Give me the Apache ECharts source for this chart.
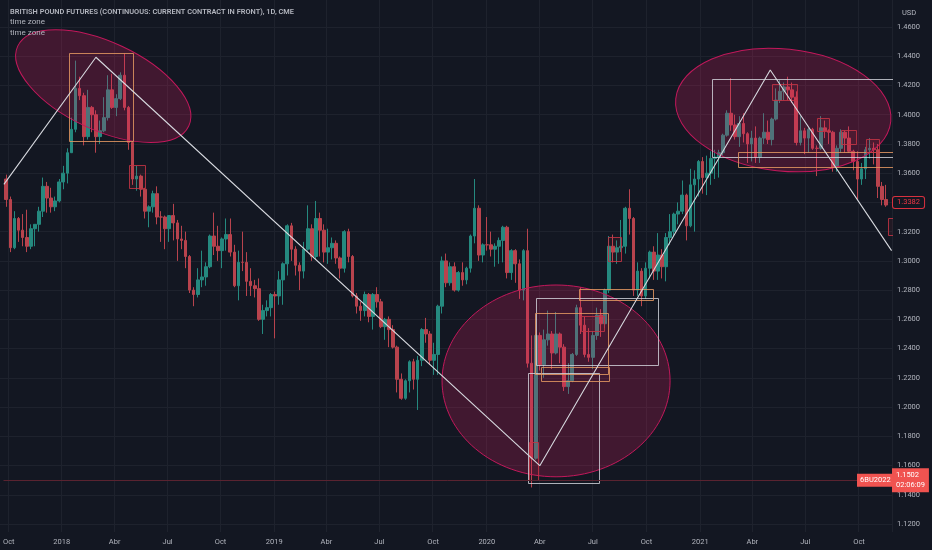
<!DOCTYPE html>
<html><head><meta charset="utf-8">
<script src="https://cdn.jsdelivr.net/npm/echarts@6.0.0/dist/echarts.min.js"></script>
<style>html,body{margin:0;padding:0;background:#131722;}#c{width:932px;height:550px;}</style>
</head><body><div id="c"></div>
<script>
// ---- axis / categories ----
const axisStart = '2017-09-22';   // first trading day visible at the left edge
const axisDays = 1091;            // trading days on the time axis
const firstWeekMonday = '2017-09-25';
const monthLabels = ['', '', '', 'Abr', '', '', 'Jul', '', '', 'Oct', '', ''];
const priceMin = 1.12, priceMax = 1.46, priceStep = 0.02;

// ---- weekly OHLC ----
const weekOpen = [
1.3560,1.3420,1.3090,1.3290,1.3210,1.3160,1.3100,1.3220,1.3250,1.3340,
1.3510,1.3430,1.3370,1.3410,1.3540,1.3600,1.3740,1.3900,1.4180,1.4130,
1.3850,1.4050,1.4000,1.3850,1.3890,1.3980,1.4170,1.4050,1.4110,1.4270,
1.4050,1.3810,1.3560,1.3580,1.3490,1.3340,1.3370,1.3460,1.3300,1.3300,
1.3220,1.3310,1.3260,1.3150,1.3140,1.3030,1.2800,1.2770,1.2870,1.2890,
1.2960,1.3170,1.3100,1.3070,1.3150,1.3180,1.3060,1.2830,1.2990,1.2990,
1.2860,1.2830,1.2810,1.2600,1.2660,1.2680,1.2770,1.2760,1.2870,1.2980,
1.3240,1.3080,1.2970,1.2930,1.3080,1.3220,1.3030,1.3290,1.3210,1.3060,
1.3090,1.3120,1.3020,1.2950,1.3200,1.3030,1.2760,1.2690,1.2660,1.2770,
1.2620,1.2770,1.2720,1.2550,1.2600,1.2530,1.2410,1.2190,1.2060,1.2180,
1.2310,1.2190,1.2320,1.2530,1.2500,1.2320,1.2360,1.2690,1.3000,1.2850,
1.2960,1.2800,1.2920,1.2870,1.2950,1.3170,1.3360,1.3040,1.3110,1.3110,
1.3080,1.3100,1.3140,1.3230,1.2920,1.3070,1.2980,1.2800,1.3070,1.2300,
1.1650,1.2490,1.2290,1.2460,1.2500,1.2370,1.2500,1.2410,1.2140,1.2180,
1.2360,1.2680,1.2560,1.2360,1.2340,1.2490,1.2630,1.2570,1.2800,1.3100,
1.3060,1.3090,1.3100,1.3360,1.3290,1.2800,1.2930,1.2760,1.2950,1.3060,
1.2930,1.3040,1.2960,1.3160,1.3200,1.3320,1.3340,1.3450,1.3240,1.3520,
1.3560,1.3680,1.3570,1.3600,1.3700,1.3710,1.3740,1.3860,1.4010,1.3930,
1.3850,1.3940,1.3870,1.3800,1.3840,1.3710,1.3840,1.3880,1.3830,1.3970,
1.4100,1.4160,1.4190,1.4170,1.4120,1.3810,1.3890,1.3840,1.3900,1.3770,
1.3770,1.3910,1.3890,1.3880,1.3640,1.3770,1.3880,1.3840,1.3750,1.3680,
1.3560,1.3630,1.3760,1.3770,1.3760,1.3510,1.3420];
const weekHigh = [
1.3590,1.3440,1.3340,1.3300,1.3320,1.3350,1.3250,1.3250,1.3370,1.3570,
1.3540,1.3500,1.3440,1.3560,1.3650,1.3770,1.3980,1.4370,1.4260,1.4150,
1.4170,1.4060,1.4030,1.3960,1.4120,1.4270,1.4280,1.4140,1.4290,1.4420,
1.4060,1.3820,1.3650,1.3590,1.3500,1.3380,1.3480,1.3510,1.3340,1.3310,
1.3310,1.3390,1.3280,1.3240,1.3200,1.3040,1.2820,1.2950,1.3070,1.2990,
1.3180,1.3330,1.3240,1.3160,1.3290,1.3290,1.3110,1.3070,1.3200,1.3060,
1.2950,1.2870,1.2880,1.2700,1.2730,1.2780,1.2790,1.2930,1.2990,1.3250,
1.3260,1.3100,1.2990,1.3130,1.3380,1.3250,1.3410,1.3330,1.3250,1.3220,
1.3160,1.3140,1.3030,1.3210,1.3220,1.3040,1.2780,1.2720,1.2790,1.2780,
1.2780,1.2820,1.2740,1.2610,1.2620,1.2560,1.2420,1.2230,1.2190,1.2320,
1.2330,1.2350,1.2540,1.2610,1.2520,1.2440,1.2700,1.3030,1.3050,1.2990,
1.2990,1.2930,1.2990,1.2960,1.3180,1.3560,1.3380,1.3120,1.3300,1.3200,
1.3120,1.3160,1.3240,1.3240,1.3080,1.3080,1.3010,1.3080,1.3220,1.2490,
1.2500,1.2510,1.2530,1.2660,1.2520,1.2650,1.2510,1.2430,1.2300,1.2370,
1.2700,1.2820,1.2620,1.2540,1.2520,1.2680,1.2670,1.2810,1.3170,1.3180,
1.3140,1.3280,1.3370,1.3490,1.3300,1.2990,1.2950,1.2990,1.3070,1.3100,
1.3190,1.3080,1.3190,1.3320,1.3330,1.3400,1.3550,1.3460,1.3630,1.3620,
1.3690,1.3710,1.3720,1.3750,1.3760,1.3760,1.3870,1.4030,1.4250,1.4000,
1.3990,1.4010,1.3880,1.3890,1.3920,1.3850,1.4010,1.3960,1.3980,1.4180,
1.4240,1.4220,1.4260,1.4220,1.4160,1.3990,1.3910,1.3910,1.3910,1.3790,
1.3990,1.3960,1.3900,1.3890,1.3790,1.3900,1.3890,1.3920,1.3760,1.3750,
1.3670,1.3780,1.3840,1.3810,1.3800,1.3540,1.3520];
const weekLow = [
1.3370,1.3060,1.3080,1.3130,1.3100,1.3060,1.3080,1.3100,1.3200,1.3300,
1.3330,1.3330,1.3340,1.3400,1.3490,1.3530,1.3740,1.3880,1.4100,1.3790,
1.3830,1.3880,1.3740,1.3800,1.3880,1.3960,1.4040,1.3990,1.4100,1.4030,
1.3760,1.3520,1.3480,1.3440,1.3290,1.3230,1.3330,1.3250,1.3130,1.3080,
1.3130,1.3140,1.3000,1.3080,1.2950,1.2780,1.2690,1.2750,1.2820,1.2830,
1.2950,1.3040,1.3000,1.2950,1.3070,1.3030,1.2820,1.2730,1.2930,1.2760,
1.2760,1.2750,1.2590,1.2500,1.2620,1.2620,1.2470,1.2700,1.2700,1.2900,
1.3000,1.2900,1.2800,1.2880,1.3070,1.3000,1.3010,1.3030,1.2990,1.2980,
1.3010,1.2980,1.2880,1.2920,1.2990,1.2750,1.2640,1.2590,1.2620,1.2580,
1.2530,1.2680,1.2540,1.2460,1.2410,1.2400,1.2100,1.2050,1.2050,1.2100,
1.2120,1.1980,1.2280,1.2440,1.2290,1.2220,1.2220,1.2640,1.2820,1.2830,
1.2790,1.2790,1.2830,1.2840,1.2920,1.3120,1.3000,1.2990,1.3070,1.3030,
1.2960,1.2980,1.2990,1.2880,1.2870,1.2850,1.2740,1.2730,1.2270,1.1450,
1.1640,1.2250,1.2200,1.2420,1.2260,1.2360,1.2300,1.2110,1.2090,1.2170,
1.2350,1.2500,1.2340,1.2310,1.2260,1.2460,1.2480,1.2540,1.2780,1.2990,
1.2980,1.3060,1.3050,1.3180,1.2760,1.2760,1.2690,1.2740,1.2880,1.2870,
1.2870,1.2880,1.2860,1.3110,1.3170,1.3250,1.3320,1.3140,1.3230,1.3200,
1.3440,1.3460,1.3450,1.3520,1.3560,1.3570,1.3720,1.3850,1.3890,1.3830,
1.3780,1.3810,1.3670,1.3680,1.3670,1.3670,1.3800,1.3800,1.3790,1.3960,
1.4080,1.4100,1.4100,1.4080,1.3790,1.3790,1.3730,1.3740,1.3760,1.3580,
1.3760,1.3840,1.3800,1.3610,1.3610,1.3740,1.3740,1.3740,1.3620,1.3420,
1.3520,1.3560,1.3700,1.3660,1.3430,1.3380,1.3370];
const weekClose = [
1.3420,1.3090,1.3290,1.3210,1.3160,1.3100,1.3220,1.3250,1.3340,1.3510,
1.3430,1.3370,1.3410,1.3540,1.3600,1.3740,1.3900,1.4180,1.4130,1.3850,
1.4050,1.4000,1.3850,1.3890,1.3980,1.4170,1.4050,1.4110,1.4270,1.4050,
1.3810,1.3560,1.3580,1.3490,1.3340,1.3370,1.3460,1.3300,1.3300,1.3220,
1.3310,1.3260,1.3150,1.3140,1.3030,1.2800,1.2770,1.2870,1.2890,1.2960,
1.3170,1.3100,1.3070,1.3150,1.3180,1.3060,1.2830,1.2990,1.2990,1.2860,
1.2830,1.2810,1.2600,1.2660,1.2680,1.2770,1.2760,1.2870,1.2980,1.3240,
1.3080,1.2970,1.2930,1.3080,1.3220,1.3030,1.3290,1.3210,1.3060,1.3090,
1.3120,1.3020,1.2950,1.3200,1.3030,1.2760,1.2690,1.2660,1.2770,1.2620,
1.2770,1.2720,1.2550,1.2600,1.2530,1.2410,1.2190,1.2060,1.2180,1.2310,
1.2190,1.2320,1.2530,1.2500,1.2320,1.2360,1.2690,1.3000,1.2850,1.2960,
1.2800,1.2920,1.2870,1.2950,1.3170,1.3360,1.3040,1.3110,1.3110,1.3080,
1.3100,1.3140,1.3230,1.2920,1.3070,1.2980,1.2800,1.3070,1.2300,1.1650,
1.2490,1.2290,1.2460,1.2500,1.2370,1.2500,1.2410,1.2140,1.2180,1.2360,
1.2680,1.2560,1.2360,1.2340,1.2490,1.2630,1.2570,1.2800,1.3100,1.3060,
1.3090,1.3100,1.3360,1.3290,1.2800,1.2930,1.2760,1.2950,1.3060,1.2930,
1.3040,1.2960,1.3160,1.3200,1.3320,1.3340,1.3450,1.3240,1.3520,1.3560,
1.3680,1.3570,1.3600,1.3700,1.3710,1.3740,1.3860,1.4010,1.3930,1.3850,
1.3940,1.3870,1.3800,1.3840,1.3710,1.3840,1.3880,1.3830,1.3970,1.4100,
1.4160,1.4190,1.4170,1.4120,1.3810,1.3890,1.3840,1.3900,1.3770,1.3770,
1.3910,1.3890,1.3880,1.3640,1.3770,1.3880,1.3840,1.3750,1.3680,1.3560,
1.3630,1.3760,1.3770,1.3760,1.3510,1.3420,1.3382];

// ---- drawings (date, price) ----
const trendPoints = [['2017-09-22',1.3523],['2018-02-28',1.4393],['2020-04-01',1.1599],['2021-05-03',1.4306],['2021-11-26',1.3070]];
// [startDate, topPrice, endDate, bottomPrice, style(0 white,1 orange,2 red), extendsRight]
const boxes = [
 ['2018-01-12',1.4424,'2018-05-02',1.3822,1,0],
 ['2018-04-26',1.3656,'2018-05-24',1.3499,2,0],
 ['2020-03-12',1.2236,'2020-07-13',1.1486,0,0],
 ['2020-03-13',1.1763,'2020-03-30',1.1501,2,0],
 ['2020-03-25',1.2744,'2020-10-21',1.2288,0,0],
 ['2020-03-24',1.2646,'2020-07-28',1.2227,1,0],
 ['2020-04-02',1.2276,'2020-07-28',1.2179,1,0],
 ['2020-06-08',1.2808,'2020-10-13',1.2733,1,0],
 ['2020-06-11',1.2623,'2020-07-21',1.2521,2,0],
 ['2020-07-28',1.3166,'2020-08-19',1.2999,2,0],
 ['2021-01-21',1.4244,'2021-11-26',1.3711,0,1],
 ['2021-03-09',1.3745,'2021-11-26',1.3640,1,1],
 ['2021-05-05',1.4210,'2021-06-17',1.4100,2,0],
 ['2021-07-22',1.3975,'2021-08-12',1.3884,2,0],
 ['2021-09-01',1.3895,'2021-09-27',1.3798,2,0],
 ['2021-10-13',1.3834,'2021-11-04',1.3747,2,0],
 ['2021-11-19',1.3294,'2021-11-26',1.3177,2,1]
];
// [centerDate, centerPrice, axisEndDate, axisEndPrice, minorEndDate, minorEndPrice]
const ellipses = [
 ['2018-03-13',1.4196,'2018-08-07',1.3923,'2018-02-08',1.3924],
 ['2020-04-29',1.2179,'2020-11-11',1.2179,'2020-04-29',1.2835],
 ['2021-05-25',1.4032,'2020-11-20',1.4110,'2021-05-13',1.3617]
];
const lastPrice = 1.3382;
const otherContract = '6BU2022', otherPrice = 1.1502, otherTimer = '02:06:09';

// ---- build ----
function fmt(d){ return d.toISOString().slice(0,10); }
const categories = [];
{ let d = new Date(axisStart + 'T00:00:00Z');
  while (categories.length < axisDays) { const w = d.getUTCDay(); if (w !== 0 && w !== 6) categories.push(fmt(d)); d = new Date(d.getTime() + 86400000); } }
const idxOf = {}; categories.forEach((c, i) => idxOf[c] = i);
function ix(s){ let d = new Date(s + 'T00:00:00Z'); for (let k = 0; k < 4; k++) { const f = fmt(d); if (f in idxOf) return idxOf[f]; d = new Date(d.getTime() + 86400000); } return categories.length - 1; }
const monthOf = categories.map(c => +c.slice(5,7) - 1);
function isQuarterStart(i){ return i > 0 && monthOf[i] !== monthOf[i-1] && monthOf[i] % 3 === 0; }

const candleData = new Array(categories.length).fill('-');
const base = new Date(firstWeekMonday + 'T00:00:00Z').getTime();
for (let k = 0; k < weekClose.length; k++) {
  const wed = fmt(new Date(base + (7*k + 2) * 86400000));
  candleData[ix(wed)] = [weekOpen[k], weekClose[k], weekLow[k], weekHigh[k]];
}
const ellipseData = ellipses.map(e => [ix(e[0]), e[1], ix(e[2]), e[3], ix(e[4]), e[5]]);
const boxData = boxes.map(b => [ix(b[0]), b[1], ix(b[2]), b[3], b[4], b[5]]);
const trendData = trendPoints.map(p => [ix(p[0]), p[1]]);

const FONT = 'Roboto, "Noto Sans", sans-serif';
const boxStroke = ['rgba(214,216,224,0.8)', 'rgba(226,150,96,0.85)', 'rgba(196,52,68,0.85)'];
const boxFill = ['rgba(0,0,0,0)', 'rgba(0,0,0,0)', 'rgba(242,54,69,0.07)'];
const NONE = 'rgba(0,0,0,0)';

// pixel mapping: 1.46 at y=27, 1.12 at y=524 ; data grid spans y 0..532
const pxPerUnit = (524 - 27) / (priceMax - priceMin);
const dataMax = priceMax + 27 / pxPerUnit;
const dataMin = priceMin - 8 / pxPerUnit;

const chart = echarts.init(document.getElementById('c'), null, {renderer: 'canvas'});
chart.setOption({
  backgroundColor: '#131722',
  animation: false,
  textStyle: {fontFamily: FONT},
  title: [
    {left: 5, top: 4, itemGap: 0, text: 'BRITISH POUND FUTURES (CONTINUOUS: CURRENT CONTRACT IN FRONT), 1D, CME',
     textStyle: {color: '#b2b5be', fontSize: 7.4, fontWeight: 600, fontFamily: FONT},
     subtext: 'time zone\ntime zone', subtextStyle: {color: '#b2b5be', fontSize: 8, lineHeight: 11, fontFamily: FONT}},
    {left: 897, top: 4, text: 'USD', textStyle: {color: '#b2b5be', fontSize: 7.5, fontWeight: 'normal', fontFamily: FONT}}
  ],
  grid: [
    {left: 0, right: 40, top: 0, bottom: 18, containLabel: false},
    {left: 0, right: 40, top: 27, bottom: 26, containLabel: false}
  ],
  xAxis: [
    {type: 'category', gridIndex: 0, data: categories, boundaryGap: true,
     axisLine: {show: false}, axisTick: {show: false},
     axisLabel: {interval: (i) => isQuarterStart(i), color: '#b2b5be', fontSize: 7.5, margin: 6, fontFamily: FONT,
       formatter: (v) => { const m = +v.slice(5,7) - 1; return m === 0 ? v.slice(0,4) : monthLabels[m]; }},
     splitLine: {show: true, interval: (i) => isQuarterStart(i), lineStyle: {color: '#1e222d', width: 1}}},
    {type: 'value', gridIndex: 1, show: false, min: 0, max: 1}
  ],
  yAxis: [
    {type: 'value', gridIndex: 0, min: dataMin, max: dataMax, show: false, splitLine: {show: false}},
    {type: 'value', gridIndex: 1, position: 'right', min: priceMin, max: priceMax, interval: priceStep,
     axisLine: {show: false}, axisTick: {show: false},
     axisLabel: {color: '#b2b5be', fontSize: 7.5, margin: 5, fontFamily: FONT, formatter: (v) => v.toFixed(4)},
     splitLine: {show: true, lineStyle: {color: '#1e222d', width: 1}}}
  ],
  series: [
    {type: 'candlestick', xAxisIndex: 0, yAxisIndex: 0, data: candleData, barWidth: 3.2, z: 2,
     large: false, progressive: 0,
     itemStyle: {color: '#25897f', color0: '#b8434d', borderColor: '#25897f', borderColor0: '#b8434d', borderWidth: 1},
     markLine: {silent: true, symbol: ['none', 'none'], animation: false,
       data: [
         {yAxis: otherPrice, lineStyle: {color: '#5a2330', width: 1, type: 'solid'},
          label: {show: true, position: 'end', distance: 0, formatter: otherPrice.toFixed(4) + '\n' + otherTimer,
            backgroundColor: '#f05350', color: '#ffffff', fontSize: 7.5, lineHeight: 10, padding: [2, 4], fontFamily: FONT}},
         {yAxis: otherPrice, lineStyle: {color: NONE, width: 0},
          label: {show: true, position: 'end', distance: -35, formatter: otherContract,
            backgroundColor: '#f05350', color: '#ffffff', fontSize: 7.5, lineHeight: 9, padding: [2, 3], fontFamily: FONT}},
         {yAxis: lastPrice, lineStyle: {color: NONE, width: 0},
          label: {show: true, position: 'end', distance: 1, formatter: lastPrice.toFixed(4),
            backgroundColor: '#131722', borderColor: '#d8313f', borderWidth: 1, borderRadius: 2,
            color: '#f23645', fontSize: 7.5, lineHeight: 9, padding: [1, 4], fontFamily: FONT}}
       ]}},
    {type: 'custom', xAxisIndex: 0, yAxisIndex: 0, data: ellipseData, z: 3, clip: true, silent: true,
     encode: {x: 0, y: 1},
     renderItem: (params, api) => {
       const c = api.coord([api.value(0), api.value(1)]);
       const m = api.coord([api.value(2), api.value(3)]);
       const n = api.coord([api.value(4), api.value(5)]);
       const rx = Math.hypot(m[0] - c[0], m[1] - c[1]);
       const ry = Math.hypot(n[0] - c[0], n[1] - c[1]);
       const ang = Math.atan2(m[1] - c[1], m[0] - c[0]);
       return {type: 'ellipse', x: c[0], y: c[1], rotation: -ang,
         shape: {cx: 0, cy: 0, rx: rx, ry: ry},
         style: {fill: 'rgba(233,30,99,0.22)', stroke: '#c2185b', lineWidth: 1}};
     }},
    {type: 'custom', xAxisIndex: 0, yAxisIndex: 0, data: boxData, z: 4, clip: true, silent: true,
     encode: {x: 0, y: 1},
     renderItem: (params, api) => {
       const a = api.coord([api.value(0), api.value(1)]);
       const b = api.coord([api.value(2), api.value(3)]);
       let x2 = b[0];
       if (api.value(5)) x2 = params.coordSys.x + params.coordSys.width + 20;
       const s = api.value(4);
       return {type: 'rect', shape: {x: Math.round(a[0]) + 0.5, y: Math.round(a[1]) + 0.5, width: Math.round(x2 - a[0]), height: Math.round(b[1] - a[1])},
         style: {fill: boxFill[s], stroke: boxStroke[s], lineWidth: 1}};
     }},
    {type: 'line', xAxisIndex: 0, yAxisIndex: 0, data: trendData, z: 6, showSymbol: false, symbol: 'none', silent: true,
     lineStyle: {color: '#d6d8de', width: 1.1}}
  ]
});
</script></body></html>
